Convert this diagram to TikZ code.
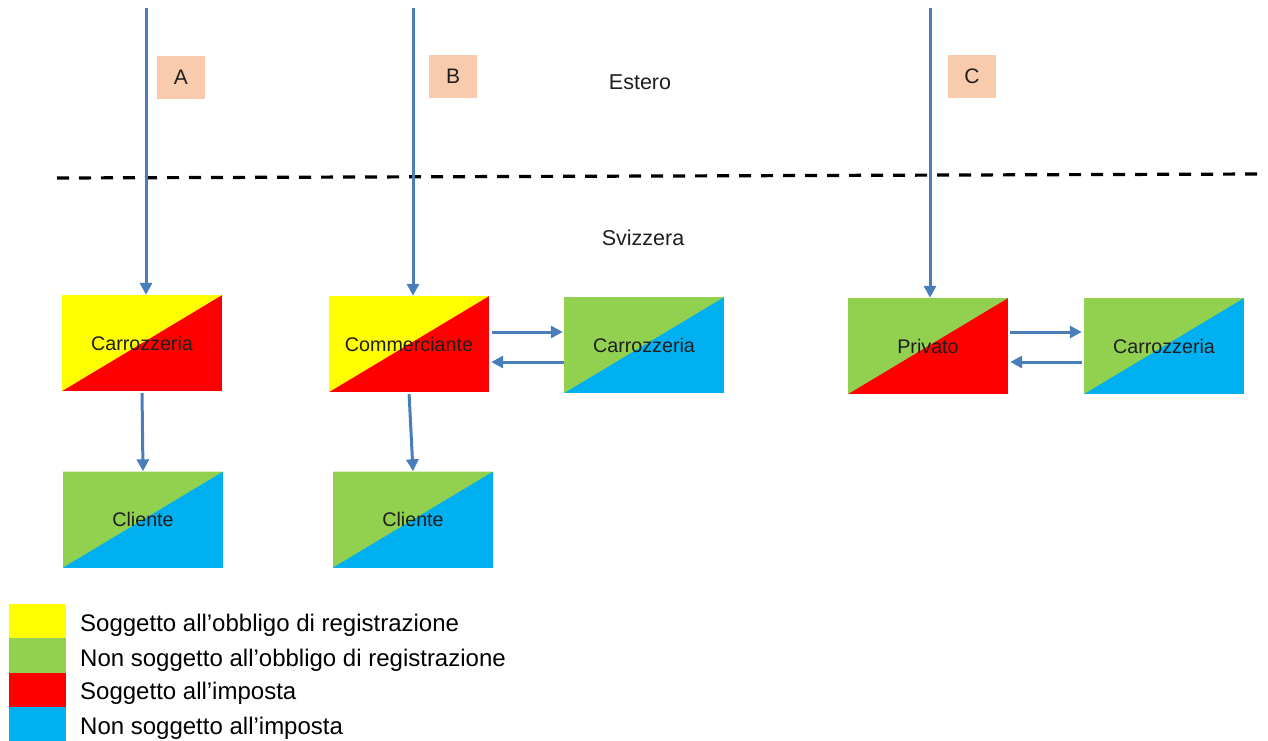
\documentclass[tikz,border=0pt]{standalone}
\usepackage{fontspec}
\setmainfont{Liberation Sans}
\usetikzlibrary{arrows.meta}
\definecolor{cyel}{RGB}{255,255,0}
\definecolor{cred}{RGB}{255,0,0}
\definecolor{cgreen}{RGB}{146,208,80}
\definecolor{cblue}{RGB}{0,176,240}
\definecolor{cpeach}{RGB}{248,203,173}
\definecolor{carrow}{RGB}{74,126,187}
\definecolor{ctext}{RGB}{30,30,30}
\tikzset{
  splitbox/.style 2 args={minimum width=160pt, minimum height=96pt, inner sep=0pt,
    fill=#2, text=ctext, font=\fontsize{19.7}{22}\selectfont,
    path picture={\fill[#1] (path picture bounding box.north west) -- (path picture bounding box.north east) -- (path picture bounding box.south west) -- cycle;}},
  flow/.style={draw=carrow, line width=3pt, -{Triangle[length=12pt,width=12pt]}},
  letter/.style={fill=cpeach, minimum width=48pt, minimum height=43pt, inner sep=0pt, font=\fontsize{21}{24}\selectfont, text=ctext},
  region/.style={font=\fontsize{21.5}{24}\selectfont, text=ctext},
  legsq/.style={fill=#1, minimum width=57pt, minimum height=35pt, inner sep=0pt, anchor=north west},
  legtxt/.style={anchor=west, font=\fontsize{24}{26}\selectfont, text=black, inner sep=0pt},
  border/.style={draw=black, line width=3.2pt, dash pattern=on 12pt off 10pt}
}
\begin{document}
\begin{tikzpicture}[x=1pt,y=-1pt]
\useasboundingbox (0,0) rectangle (1268,740);
% boundary
\coordinate (dl) at (57,178);
\coordinate (dr) at (1260,174);
\draw[border] (dl) -- (dr);
\node[region] (estero) at (640,82) {Estero};
\node[region] (svizzera) at (643,238) {Svizzera};
% letters
\node[letter] (la) at (181,77) {A};
\node[letter] (lb) at (453,76) {B};
\node[letter] (lc) at (972,76) {C};
% boxes
\node[splitbox={cyel}{cred}] (carA) at (142,343) {Carrozzeria};
\node[splitbox={cgreen}{cblue}] (cliA) at (143,519.5) {Cliente};
\node[splitbox={cyel}{cred}] (comm) at (409,344) {Commerciante};
\node[splitbox={cgreen}{cblue}] (carB) at (644,345) {Carrozzeria};
\node[splitbox={cgreen}{cblue}] (cliB) at (413,519.5) {Cliente};
\node[splitbox={cgreen}{cred}] (priv) at (928,346) {Privato};
\node[splitbox={cgreen}{cblue}] (carC) at (1164,346) {Carrozzeria};
% incoming arrows
\coordinate (ta) at (146,8);
\coordinate (tb) at (413,8);
\coordinate (tc) at (930,8);
\draw[flow] (ta) -- (ta |- carA.north);
\draw[flow] (tb) -- (tb |- comm.north);
\draw[flow] (tc) -- (tc |- priv.north);
% down arrows
\draw[flow, shorten <=2pt] (carA.south) -- (cliA.north);
\draw[flow, shorten <=2pt] (comm.south) -- (cliB.north);
% horizontal arrows
\draw[flow, shorten <=3pt, shorten >=1pt] ([yshift=12pt]comm.east) -- ([yshift=12pt]comm.east -| carB.west);
\draw[flow, shorten >=2pt] ([yshift=-18pt]comm.east -| carB.west) -- ([yshift=-18pt]comm.east);
\draw[flow, shorten <=2pt, shorten >=2pt] ([yshift=14pt]priv.east) -- ([yshift=14pt]priv.east -| carC.west);
\draw[flow, shorten <=2pt, shorten >=2pt] ([yshift=-16pt]priv.east -| carC.west) -- ([yshift=-16pt]priv.east);
% legend
\node[legsq=cyel] (sq1) at (9,604) {};
\node[legsq=cgreen] (sq2) at (9,638) {};
\node[legsq=cred] (sq3) at (9,673) {};
\node[legsq=cblue] (sq4) at (9,707) {};
\node[legtxt] (t1) at (80,625) {Soggetto all’obbligo di registrazione};
\node[legtxt] (t2) at (80,660) {Non soggetto all’obbligo di registrazione};
\node[legtxt] (t3) at (80,693) {Soggetto all’imposta};
\node[legtxt] (t4) at (80,728) {Non soggetto all’imposta};
\end{tikzpicture}
\end{document}
